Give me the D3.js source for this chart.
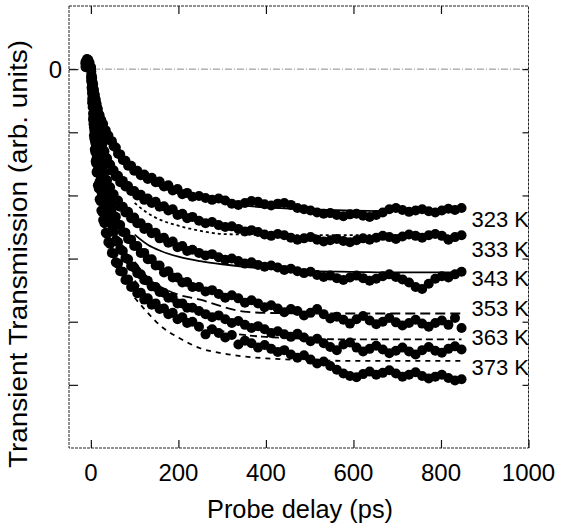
<!DOCTYPE html>
<html><head><meta charset="utf-8">
<script src="https://cdn.jsdelivr.net/npm/d3@7"></script>
<style>body{margin:0;background:#fff}svg{display:block}text{font-family:"Liberation Sans",Arial,sans-serif;fill:#000}</style>
</head><body><svg id="c" width="567" height="529"></svg>
<script>
const seriesLabels = ["323 K","333 K","343 K","353 K","363 K","373 K"];
const xTicks = [0,200,400,600,800,1000];
const yTicks = [0];
const delays = [-12,-9,-6,-3,0,1,2,3,4,5,6,7,8,9,10,11,12,13,14,16,18,20,22,24,26,28,31,34,37,40,44,48,52,57,62,67,73,79,85,92,99,106,114,122,130,139,148,157,167,177,187,198,209,220,232,
  247,262,277,292,307,322,337,352,367,382,397,412,427,442,457,472,487,502,517,532,547,562,577,592,607,622,637,652,667,682,697,712,727,742,757,772,787,802,817,832,847];
const s323 = [0.08,0.13,0.10,0.06,0.02,-0.04,-0.11,-0.14,-0.21,-0.24,-0.31,-0.33,-0.39,-0.41,-0.47,-0.48,-0.54,-0.55,-0.60,-0.63,-0.71,-0.73,-0.80,-0.81,-0.88,-0.87,-0.96,-0.97,-1.05,-1.05,-1.13,-1.14,-1.22,-1.24,-1.34,-1.35,-1.44,-1.45,-1.53,-1.53,-1.61,-1.61,-1.68,-1.67,-1.74,-1.72,-1.79,-1.78,-1.86,-1.84,-1.92,-1.90,-1.98,-1.96,-2.02,
  -2.01,-2.04,-2.07,-2.05,-2.08,-2.13,-2.15,-2.12,-2.09,-2.10,-2.14,-2.16,-2.13,-2.12,-2.15,-2.20,-2.22,-2.24,-2.27,-2.29,-2.28,-2.31,-2.33,-2.30,-2.29,-2.32,-2.34,-2.31,-2.27,-2.22,-2.20,-2.23,-2.26,-2.24,-2.22,-2.25,-2.27,-2.24,-2.21,-2.23,-2.20];
const s333 = [0.12,0.07,0.13,0.05,0.00,-0.09,-0.15,-0.27,-0.30,-0.40,-0.43,-0.53,-0.54,-0.64,-0.65,-0.75,-0.76,-0.84,-0.84,-0.95,-0.98,-1.08,-1.09,-1.18,-1.19,-1.28,-1.30,-1.40,-1.41,-1.49,-1.51,-1.61,-1.60,-1.70,-1.69,-1.79,-1.77,-1.86,-1.85,-1.93,-1.93,-2.00,-1.99,-2.07,-2.05,-2.12,-2.10,-2.18,-2.17,-2.24,-2.22,-2.31,-2.29,-2.36,-2.34,
  -2.40,-2.44,-2.42,-2.47,-2.50,-2.49,-2.53,-2.57,-2.55,-2.58,-2.62,-2.64,-2.61,-2.63,-2.67,-2.70,-2.68,-2.66,-2.70,-2.73,-2.71,-2.69,-2.72,-2.74,-2.71,-2.68,-2.70,-2.67,-2.64,-2.66,-2.69,-2.65,-2.62,-2.64,-2.67,-2.63,-2.61,-2.64,-2.70,-2.66,-2.63];
const s343 = [0.05,0.14,0.09,0.03,0.01,-0.13,-0.22,-0.37,-0.42,-0.56,-0.60,-0.73,-0.75,-0.88,-0.89,-1.00,-1.01,-1.11,-1.11,-1.25,-1.27,-1.39,-1.41,-1.52,-1.52,-1.62,-1.64,-1.75,-1.76,-1.86,-1.87,-1.98,-1.98,-2.08,-2.08,-2.18,-2.18,-2.27,-2.26,-2.36,-2.35,-2.44,-2.44,-2.53,-2.51,-2.60,-2.59,-2.68,-2.67,-2.75,-2.73,-2.82,-2.80,-2.88,-2.86,
  -2.91,-2.95,-2.93,-2.98,-3.02,-3.00,-3.04,-3.08,-3.06,-3.10,-3.13,-3.11,-3.14,-3.18,-3.16,-3.20,-3.23,-3.21,-3.26,-3.29,-3.27,-3.31,-3.34,-3.30,-3.27,-3.31,-3.35,-3.32,-3.28,-3.25,-3.29,-3.33,-3.38,-3.45,-3.48,-3.40,-3.32,-3.28,-3.30,-3.25,-3.21];
const s353 = [0.10,0.06,0.15,0.05,0.03,-0.12,-0.29,-0.38,-0.54,-0.59,-0.75,-0.79,-0.92,-0.96,-1.08,-1.10,-1.21,-1.22,-1.32,-1.38,-1.52,-1.55,-1.67,-1.69,-1.80,-1.81,-1.93,-1.95,-2.07,-2.08,-2.20,-2.21,-2.32,-2.34,-2.46,-2.47,-2.58,-2.59,-2.69,-2.70,-2.80,-2.80,-2.91,-2.91,-3.01,-3.01,-3.11,-3.11,-3.22,-3.20,-3.30,-3.30,-3.38,-3.37,-3.45,
  -3.45,-3.52,-3.50,-3.56,-3.62,-3.58,-3.63,-3.70,-3.66,-3.71,-3.77,-3.74,-3.79,-3.85,-3.80,-3.83,-3.90,-3.86,-3.80,-3.88,-3.95,-3.92,-3.97,-4.03,-3.96,-3.91,-3.98,-4.04,-4.00,-3.94,-4.01,-4.06,-4.02,-3.97,-4.03,-4.08,-4.02,-3.98,-4.05,-3.94,-4.10];
const s363 = [0.03,0.11,0.06,0.02,0.00,-0.17,-0.28,-0.47,-0.55,-0.70,-0.78,-0.92,-0.98,-1.12,-1.16,-1.27,-1.31,-1.41,-1.44,-1.59,-1.65,-1.78,-1.82,-1.94,-1.97,-2.07,-2.12,-2.24,-2.28,-2.38,-2.43,-2.55,-2.58,-2.71,-2.74,-2.85,-2.88,-2.99,-3.01,-3.12,-3.14,-3.23,-3.25,-3.34,-3.35,-3.44,-3.45,-3.53,-3.54,-3.62,-3.62,-3.71,-3.71,-3.78,-3.78,
  -3.83,-3.88,-3.93,-3.90,-3.96,-4.02,-3.99,-4.05,-4.10,-4.07,-4.12,-4.18,-4.15,-4.20,-4.24,-4.19,-4.25,-4.31,-4.27,-4.34,-4.40,-4.45,-4.36,-4.33,-4.41,-4.47,-4.43,-4.38,-4.44,-4.50,-4.46,-4.41,-4.47,-4.52,-4.45,-4.40,-4.46,-4.49,-4.43,-4.39,-4.44];
const s373 = [0.09,0.16,0.04,0.10,0.02,-0.19,-0.31,-0.52,-0.60,-0.80,-0.87,-1.05,-1.10,-1.27,-1.31,-1.46,-1.49,-1.63,-1.64,-1.84,-1.89,-2.06,-2.09,-2.24,-2.26,-2.39,-2.44,-2.59,-2.61,-2.74,-2.77,-2.91,-2.92,-3.06,-3.08,-3.20,-3.21,-3.34,-3.33,-3.45,-3.44,-3.55,-3.54,-3.65,-3.63,-3.73,-3.71,-3.80,-3.79,-3.88,-3.86,-3.96,-3.93,-4.02,-4.00,
  -4.08,-4.20,-4.12,-4.18,-4.25,-4.21,-4.36,-4.30,-4.34,-4.41,-4.37,-4.43,-4.48,-4.45,-4.52,-4.57,-4.53,-4.60,-4.66,-4.63,-4.70,-4.76,-4.82,-4.86,-4.88,-4.83,-4.79,-4.84,-4.81,-4.77,-4.82,-4.87,-4.84,-4.80,-4.86,-4.90,-4.87,-4.84,-4.89,-4.93,-4.91];
const fitDelays = [100,130,160,200,250,300,350,400,500,600,700,847];
const f323 = [-1.62,-1.76,-1.87,-1.97,-2.05,-2.11,-2.16,-2.19,-2.22,-2.24,-2.25,-2.25];
const f333 = [-2.12,-2.28,-2.39,-2.48,-2.56,-2.61,-2.62,-2.63,-2.63,-2.63,-2.63,-2.63];
const f343 = [-2.62,-2.78,-2.88,-2.97,-3.04,-3.09,-3.13,-3.16,-3.20,-3.21,-3.22,-3.22];
const f353 = [-3.05,-3.30,-3.45,-3.57,-3.65,-3.76,-3.84,-3.86,-3.87,-3.87,-3.87,-3.87];
const f363 = [-3.35,-3.60,-3.78,-3.93,-4.06,-4.15,-4.21,-4.24,-4.27,-4.28,-4.28,-4.28];
const f373 = [-3.62,-3.86,-4.07,-4.25,-4.42,-4.50,-4.55,-4.58,-4.61,-4.62,-4.62,-4.62];

const dataSeries = [s323,s333,s343,s353,s363,s373];
const fitSeries = [f323,f333,f343,f353,f363,f373];
const fitDash = ["none","3,3","none","10,5","7,4","5,5"];

const svg = d3.select("#c");
const L=69,R=528.5,T=6,B=448;
const x = d3.scaleLinear().domain([-50,1000]).range([L,R]);
const y = d3.scaleLinear().domain([-6,1]).range([B,T]);

svg.append("line").attr("x1",L).attr("x2",R).attr("y1",y(0)).attr("y2",y(0))
  .attr("stroke","#8a8a8a").attr("stroke-width",1).attr("stroke-dasharray","7,2,1,2");

svg.append("rect").attr("x",L).attr("y",T).attr("width",R-L).attr("height",B-T)
  .attr("fill","none").attr("stroke","#222").attr("stroke-width",1).attr("stroke-dasharray","3,1");

const xb = d3.axisBottom(x).tickValues(xTicks).tickSize(-8).tickFormat("");
const xt = d3.axisTop(x).tickValues(xTicks.slice(0,5)).tickSize(-8).tickFormat("");
const yl = d3.axisLeft(y).tickValues([-5,-4,-3,-2,-1,0]).tickSize(-9).tickFormat("");
const yr = d3.axisRight(y).tickValues([-5,-4,-3,-2,-1,0]).tickSize(-6).tickFormat("");
[[xb,`translate(0,${B})`],[xt,`translate(0,${T})`],[yl,`translate(${L},0)`],[yr,`translate(${R},0)`]].forEach(([a,t])=>{
  const g=svg.append("g").attr("transform",t).call(a);
  g.select(".domain").remove();
  g.selectAll("line").attr("stroke","#111").attr("stroke-width",1.2);
});

svg.append("g").selectAll("text").data(xTicks).join("text")
  .attr("x",d=>x(d)).attr("y",481).attr("text-anchor","middle")
  .attr("font-size",24).text(d=>d);
svg.append("g").selectAll("text").data(yTicks).join("text")
  .attr("x",62).attr("y",d=>y(d)+8.5).attr("text-anchor","end")
  .attr("font-size",24).text(d=>d);

svg.append("text").attr("x",300).attr("y",518).attr("text-anchor","middle")
  .attr("font-size",26).attr("textLength",186).attr("lengthAdjust","spacingAndGlyphs").text("Probe delay (ps)");
svg.append("text").attr("transform","translate(27,254) rotate(-90)").attr("text-anchor","middle")
  .attr("font-size",25).attr("textLength",428).attr("lengthAdjust","spacingAndGlyphs").text("Transient Transmission (arb. units)");

dataSeries.forEach(vals=>{
  svg.append("g").selectAll("circle").data(delays.map((t,i)=>[t,vals[i]])).join("circle")
    .attr("cx",d=>x(d[0])).attr("cy",d=>y(d[1])).attr("r",5).attr("fill","#000");
});

const line = d3.line().x(d=>x(d[0])).y(d=>y(d[1])).curve(d3.curveMonotoneX);
fitSeries.forEach((vals,i)=>{
  svg.append("path").datum(fitDelays.map((t,j)=>[t,vals[j]])).attr("d",line)
    .attr("fill","none").attr("stroke","#000").attr("stroke-width",1.8)
    .attr("stroke-dasharray",fitDash[i]);
});

const ly = d3.scalePoint().domain(seriesLabels).range([y(-2.38),y(-4.71)]);
svg.append("g").selectAll("text").data(seriesLabels).join("text")
  .attr("x",471.5).attr("y",d=>ly(d)+8).attr("font-size",22).text(d=>d);
</script></body></html>
